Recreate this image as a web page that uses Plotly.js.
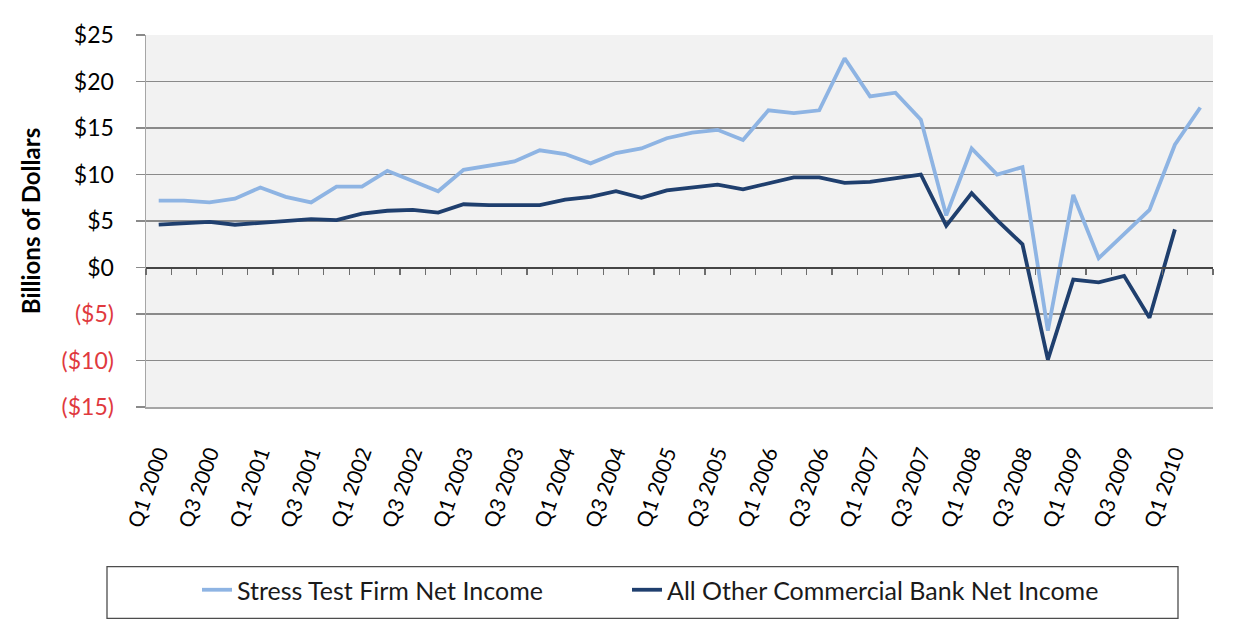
<!DOCTYPE html>
<html>
<head>
<meta charset="utf-8">
<script src="https://cdn.plot.ly/plotly-3.0.1.min.js"></script>
<style>
  html, body { margin: 0; padding: 0; background: #ffffff; }
  #chart { width: 1241px; height: 624px; }
</style>
</head>
<body>
<div id="chart"></div>
<script>
// Quarters Q1 2000 .. Q2 2010
var quarters = [
  "Q1 2000","Q2 2000","Q3 2000","Q4 2000",
  "Q1 2001","Q2 2001","Q3 2001","Q4 2001",
  "Q1 2002","Q2 2002","Q3 2002","Q4 2002",
  "Q1 2003","Q2 2003","Q3 2003","Q4 2003",
  "Q1 2004","Q2 2004","Q3 2004","Q4 2004",
  "Q1 2005","Q2 2005","Q3 2005","Q4 2005",
  "Q1 2006","Q2 2006","Q3 2006","Q4 2006",
  "Q1 2007","Q2 2007","Q3 2007","Q4 2007",
  "Q1 2008","Q2 2008","Q3 2008","Q4 2008",
  "Q1 2009","Q2 2009","Q3 2009","Q4 2009",
  "Q1 2010","Q2 2010"
];

// Billions of dollars
var stressTestFirm = [
  7.2, 7.2, 7.0, 7.4,
  8.6, 7.6, 7.0, 8.7,
  8.7, 10.4, 9.3, 8.2,
  10.5, 10.9, 11.4, 12.6,
  12.2, 11.2, 12.3, 12.8,
  13.9, 14.5, 14.8, 13.7,
  16.9, 16.6, 16.9, 22.5,
  18.4, 18.8, 15.9, 5.6,
  12.8, 10.0, 10.8, -6.8,
  7.8, 1.0, 3.6, 6.2,
  13.2, 17.2
];

var allOtherBanks = [
  4.6, 4.8, 4.9, 4.6,
  4.8, 5.0, 5.2, 5.1,
  5.8, 6.1, 6.2, 5.9,
  6.8, 6.7, 6.7, 6.7,
  7.3, 7.6, 8.2, 7.5,
  8.3, 8.6, 8.9, 8.4,
  9.0, 9.7, 9.7, 9.1,
  9.2, 9.6, 10.0, 4.5,
  8.0, 5.1, 2.5, -9.9,
  -1.3, -1.6, -0.9, -5.4,
  4.1
];

var seriesNames = ["Stress Test Firm Net Income", "All Other Commercial Bank Net Income"];

var yTickVals = [25, 20, 15, 10, 5, 0, -5, -10, -15];
var yTickText = ["$25","$20","$15","$10","$5","$0","($5)","($10)","($15)"];

var xTickVals = quarters.filter(function (q, i) { return i % 2 === 0 && i < 41; });

var labelFont = "Lato, 'Open Sans', sans-serif";
var red = "#e0393e";

var yTickTextStyled = yTickVals.map(function (v, i) {
  return v < 0 ? '<span style="color:' + red + '">' + yTickText[i] + '</span>' : yTickText[i];
});

var traces = [
  {
    x: quarters, y: stressTestFirm, name: seriesNames[0],
    type: "scatter", mode: "lines",
    line: { color: "#8eb4e3", width: 3.8 },
    legend: "legend",
    xaxis: "x", yaxis: "y"
  },
  {
    x: quarters.slice(0, allOtherBanks.length), y: allOtherBanks, name: seriesNames[1],
    type: "scatter", mode: "lines",
    line: { color: "#1f3f6e", width: 3.8 },
    legend: "legend2",
    xaxis: "x", yaxis: "y"
  },
  {
    // carrier for the zero-line tick axis (invisible)
    x: quarters, y: stressTestFirm, type: "scatter", mode: "lines",
    line: { width: 0, color: "rgba(0,0,0,0)" },
    showlegend: false, hoverinfo: "skip",
    xaxis: "x2", yaxis: "y"
  }
];

var mL = 146, mR = 28, mT = 35, mB = 216;
var W = 1241, H = 624;
var pw = W - mL - mR, ph = H - mT - mB;
function px2x(p) { return (p - mL) / pw; }
function py2y(p) { return (H - mB - p) / ph; }

var legendFont = { family: labelFont, size: 25, color: "#1a1a1a" };

var layout = {
  width: W, height: H,
  margin: { l: mL, r: mR, t: mT, b: mB, pad: 0 },
  paper_bgcolor: "#ffffff",
  plot_bgcolor: "#f2f2f2",
  showlegend: true,
  font: { family: labelFont, color: "#000000" },
  xaxis: {
    type: "category",
    categoryorder: "array", categoryarray: quarters,
    range: [-0.5, quarters.length - 0.5],
    tickmode: "array", tickvals: xTickVals, ticktext: xTickVals,
    tickangle: -71,
    tickfont: { family: labelFont, size: 21, color: "#000000" },
    ticks: "",
    ticklabelstandoff: 24,
    showgrid: false, zeroline: false,
    showline: true, linecolor: "#a6a6a6", linewidth: 1.5,
    fixedrange: true
  },
  xaxis2: {
    type: "category",
    categoryorder: "array", categoryarray: quarters,
    range: [-0.5, quarters.length - 0.5],
    overlaying: "x", anchor: "free",
    position: (0 - (-15)) / 40,
    side: "bottom",
    tickmode: "linear", tick0: 0, dtick: 1,
    tickson: "boundaries",
    ticks: "outside", ticklen: 6, tickwidth: 1.2, tickcolor: "#6d6d6d",
    showticklabels: false,
    showgrid: false, zeroline: false,
    showline: true, linecolor: "#454545", linewidth: 2.5,
    fixedrange: true
  },
  yaxis: {
    range: [-15, 25],
    tickmode: "array", tickvals: yTickVals, ticktext: yTickTextStyled,
    tickfont: { family: labelFont, size: 23, color: "#000000" },
    ticks: "outside", ticklen: 9, tickwidth: 1.3, tickcolor: "#8a8a8a",
    ticklabelstandoff: 17,
    showgrid: true, gridcolor: "#8a8a8a", gridwidth: 1.3,
    zeroline: false,
    showline: true, linecolor: "#a6a6a6", linewidth: 1.5,
    title: {
      text: "Billions of Dollars",
      font: { family: labelFont, size: 24, color: "#000000", weight: "bold" },
      standoff: 14
    },
    fixedrange: true
  },
  legend: {
    orientation: "h",
    x: px2x(197), xanchor: "left",
    y: py2y(590), yanchor: "middle",
    font: legendFont,
    bgcolor: "rgba(0,0,0,0)", borderwidth: 0
  },
  legend2: {
    orientation: "h",
    x: px2x(627), xanchor: "left",
    y: py2y(590), yanchor: "middle",
    font: legendFont,
    bgcolor: "rgba(0,0,0,0)", borderwidth: 0
  },
  shapes: [
    {
      type: "rect", xref: "paper", yref: "paper",
      x0: px2x(107), x1: px2x(1178), y0: py2y(620), y1: py2y(568),
      line: { color: "#4d4d4d", width: 1.3 },
      fillcolor: "rgba(0,0,0,0)", layer: "above"
    }
  ]
};

Plotly.newPlot("chart", traces, layout, { displayModeBar: false, staticPlot: true });
</script>
</body>
</html>
